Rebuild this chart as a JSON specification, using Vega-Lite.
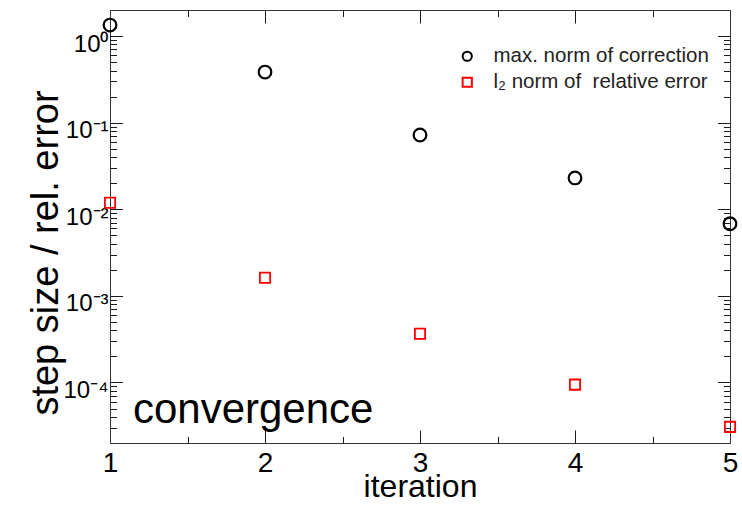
{
  "$schema": "https://vega.github.io/schema/vega-lite/v6.json",
  "width": 620,
  "height": 433,
  "autosize": {"type": "none"},
  "padding": {"left": 110, "top": 10, "right": 12, "bottom": 63},
  "background": "white",
  "config": {
    "view": {"stroke": null},
    "font": "Liberation Sans",
    "axis": {
      "grid": false,
      "domainColor": "#333333",
      "domainWidth": 1,
      "tickColor": "#1a1a1a",
      "tickWidth": 1,
      "labelColor": "black",
      "titleColor": "black",
      "titleFontWeight": "normal",
      "labelOverlap": false
    },
    "legend": {
      "orient": "none",
      "legendX": 347,
      "legendY": 36,
      "padding": 0,
      "labelFontSize": 20.5,
      "labelColor": "#222222",
      "labelOffset": 16,
      "labelLimit": 0,
      "rowPadding": 5,
      "symbolSize": 85,
      "symbolStrokeWidth": 2,
      "title": null
    }
  },
  "datasets": {
    "points": [
      {"iteration": 1, "value": 1.34, "series": "max. norm of correction"},
      {"iteration": 2, "value": 0.384, "series": "max. norm of correction"},
      {"iteration": 3, "value": 0.0721, "series": "max. norm of correction"},
      {"iteration": 4, "value": 0.023, "series": "max. norm of correction"},
      {"iteration": 5, "value": 0.0068, "series": "max. norm of correction"},
      {"iteration": 1, "value": 0.0119, "series": "l₂ norm of\u00a0 relative error"},
      {"iteration": 2, "value": 0.00162, "series": "l₂ norm of\u00a0 relative error"},
      {"iteration": 3, "value": 0.000366, "series": "l₂ norm of\u00a0 relative error"},
      {"iteration": 4, "value": 0.0000944, "series": "l₂ norm of\u00a0 relative error"},
      {"iteration": 5, "value": 0.0000307, "series": "l₂ norm of\u00a0 relative error"}
    ],
    "note": [
      {"label": "convergence", "iteration": 1.148, "value": 0.000034}
    ]
  },
  "resolve": {"axis": {"x": "independent", "y": "independent"}},
  "layer": [
    {
      "data": {"name": "points"},
      "transform": [{"filter": "datum.series == 'max. norm of correction'"}],
      "mark": {"type": "point", "filled": false, "strokeWidth": 2.2, "size": 160, "opacity": 1},
      "encoding": {
        "x": {
          "field": "iteration",
          "type": "quantitative",
          "scale": {"domain": [1, 5], "nice": false, "zero": false},
          "axis": {
            "orient": "bottom",
            "values": [1, 1.5, 2, 2.5, 3, 3.5, 4, 4.5, 5],
            "labelExpr": "datum.value % 1 == 0 ? '' + datum.value : ''",
            "labelFlush": false,
            "labelFontSize": 28,
            "labelBaseline": "alphabetic",
            "labelPadding": 41,
            "tickSize": {"expr": "datum.value % 1 == 0 ? -13 : -6.5"},
            "title": "iteration",
            "titleFontSize": 32,
            "titleBaseline": "alphabetic",
            "titleY": 53.4
          }
        },
        "y": {
          "field": "value",
          "type": "quantitative",
          "scale": {"type": "log", "domain": [0.00002, 2], "nice": false},
          "axis": {
            "orient": "left",
            "values": [0.00003, 0.00004, 0.00005, 0.00006, 0.00007, 0.00008, 0.00009, 0.0001, 0.0002, 0.0003, 0.0004, 0.0005, 0.0006, 0.0007, 0.0008, 0.0009, 0.001, 0.002, 0.003, 0.004, 0.005, 0.006, 0.007, 0.008, 0.009, 0.01, 0.02, 0.03, 0.04, 0.05, 0.06, 0.07, 0.08, 0.09, 0.1, 0.2, 0.3, 0.4, 0.5, 0.6, 0.7, 0.8, 0.9, 1],
            "labelExpr": "abs(log(datum.value)/LN10 - round(log(datum.value)/LN10)) < 1e-6 ? '10' + (round(log(datum.value)/LN10) == 0 ? '⁰' : '⁻' + ['', '¹', '²', '³', '⁴', '⁵'][-round(log(datum.value)/LN10)]) : ''",
            "labelFontSize": 24,
            "labelBaseline": "alphabetic",
            "labelAlign": "right",
            "labelOffset": 15,
            "labelPadding": 14.5,
            "tickSize": {"expr": "abs(log(datum.value)/LN10 - round(log(datum.value)/LN10)) < 1e-6 ? -12.5 : -6.5"},
            "title": "step size / rel. error",
            "titleFontSize": 38,
            "titleAngle": 270,
            "titleBaseline": "alphabetic",
            "titleAlign": "center",
            "titleX": -53,
            "titleY": 242.5
          }
        },
        "color": {
          "field": "series",
          "type": "nominal",
          "scale": {"domain": ["max. norm of correction", "l₂ norm of\u00a0 relative error"], "range": ["black", "red"]}
        },
        "shape": {
          "field": "series",
          "type": "nominal",
          "scale": {"domain": ["max. norm of correction", "l₂ norm of\u00a0 relative error"], "range": ["circle", "square"]}
        }
      }
    },
    {
      "data": {"name": "points"},
      "transform": [{"filter": "datum.series != 'max. norm of correction'"}],
      "mark": {"type": "point", "filled": false, "strokeWidth": 1.8, "size": 105, "opacity": 1},
      "encoding": {
        "x": {
          "field": "iteration",
          "type": "quantitative",
          "axis": {
            "orient": "top",
            "values": [1, 1.5, 2, 2.5, 3, 3.5, 4, 4.5, 5],
            "labels": false,
            "title": null,
            "tickSize": {"expr": "datum.value % 1 == 0 ? -13 : -6.5"}
          }
        },
        "y": {
          "field": "value",
          "type": "quantitative",
          "axis": {
            "orient": "right",
            "values": [0.00003, 0.00004, 0.00005, 0.00006, 0.00007, 0.00008, 0.00009, 0.0001, 0.0002, 0.0003, 0.0004, 0.0005, 0.0006, 0.0007, 0.0008, 0.0009, 0.001, 0.002, 0.003, 0.004, 0.005, 0.006, 0.007, 0.008, 0.009, 0.01, 0.02, 0.03, 0.04, 0.05, 0.06, 0.07, 0.08, 0.09, 0.1, 0.2, 0.3, 0.4, 0.5, 0.6, 0.7, 0.8, 0.9, 1],
            "labels": false,
            "title": null,
            "tickSize": {"expr": "abs(log(datum.value)/LN10 - round(log(datum.value)/LN10)) < 1e-6 ? -12.5 : -6.5"}
          }
        },
        "color": {"field": "series", "type": "nominal"},
        "shape": {"field": "series", "type": "nominal"}
      }
    },
    {
      "data": {"name": "note"},
      "mark": {"type": "text", "align": "left", "baseline": "alphabetic", "fontSize": 42, "color": "black"},
      "encoding": {
        "x": {"field": "iteration", "type": "quantitative", "axis": null},
        "y": {"field": "value", "type": "quantitative", "axis": null},
        "text": {"field": "label"}
      }
    }
  ]
}
